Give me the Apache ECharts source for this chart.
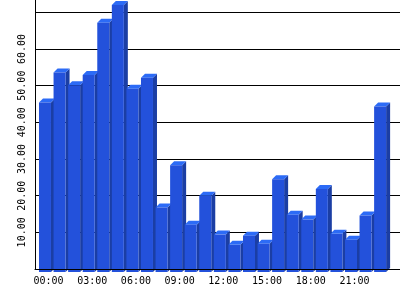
<!DOCTYPE html>
<html>
<head>
<meta charset="utf-8">
<style>html,body{margin:0;padding:0;background:#fff;}#c{width:400px;height:300px;}</style>
<script src="https://cdn.jsdelivr.net/npm/echarts@6/dist/echarts.min.js"></script>
</head>
<body>
<div id="c"></div>
<script>
const categories = ["00:00","01:00","02:00","03:00","04:00","05:00","06:00","07:00","08:00","09:00","10:00","11:00","12:00","13:00","14:00","15:00","16:00","17:00","18:00","19:00","20:00","21:00","22:00","23:00"];
const values = [46.2,54.4,50.9,53.7,68.0,72.8,50.0,53.0,17.6,29.1,12.9,20.8,10.2,7.4,9.9,7.7,25.3,15.6,14.3,22.6,10.4,8.8,15.4,45.1];
const yTickLabels = [10,20,30,40,50,60];

const FONT = 'DejaVu Sans Mono';
const YMAX = 73.9;
const chart = echarts.init(document.getElementById('c'), null, {renderer:'canvas'});

function renderBar(params, api) {
  const i = api.value(0), v = api.value(1);
  const top = api.coord([i, v]);
  const base = api.coord([i, 0]);
  const d = 4, w = 12, off = 3.5;
  const cx = top[0] - off;
  const l = cx - w/2, r = cx + w/2;
  const ft = top[1] + 3, fb = base[1] + 3;
  return {
    type: 'group',
    children: [
      {type:'polygon', shape:{points:[[r,ft],[r+d,ft-d],[r+d,fb-d],[r,fb]]}, style:{fill:'#1b3ea4'}},
      {type:'polygon', shape:{points:[[l,ft],[r,ft],[r+d,ft-d],[l+d,ft-d]]}, style:{fill:'#2c6bf6'}},
      {type:'rect', shape:{x:l, y:ft, width:w, height:fb-ft}, style:{fill:'#2351db'}}
    ]
  };
}

chart.setOption({
  animation: false,
  grid: [
    {left:35, right:0, top:-2, bottom:31, containLabel:false, outerBoundsMode:'none'},
    {left:41.2, right:9.1, top:-2, bottom:31, containLabel:false, outerBoundsMode:'none'}
  ],
  xAxis: [
    {gridIndex:0, type:'value', min:0, max:1, z:10,
     axisLine:{show:true, lineStyle:{color:'#000', width:1}},
     axisTick:{show:false}, axisLabel:{show:false}, splitLine:{show:false}},
    {gridIndex:1, type:'category', data:categories,
     axisLine:{show:false}, axisTick:{show:false}, splitLine:{show:false},
     axisLabel:{interval:2, margin:7, color:'#000', fontFamily:FONT, fontSize:10}}
  ],
  yAxis: [
    {gridIndex:0, type:'value', min:0, max:YMAX, interval:10,
     axisLine:{show:true, lineStyle:{color:'#000', width:1}},
     axisTick:{show:false},
     splitLine:{show:true, lineStyle:{color:'#000', width:1}},
     axisLabel:{rotate:90, margin:8, color:'#000', fontFamily:FONT, fontSize:10,
       formatter: function(v){ return yTickLabels.indexOf(Math.round(v)) >= 0 && Math.abs(v-Math.round(v))<1e-6 ? v.toFixed(2) : ''; }}},
    {gridIndex:1, type:'value', min:0, max:YMAX, interval:10, show:false,
     splitLine:{show:false}}
  ],
  series: [{
    type:'custom', xAxisIndex:1, yAxisIndex:1, clip:false,
    renderItem: renderBar,
    data: values.map((v,i)=>[i,v])
  }]
});
</script>
</body>
</html>
